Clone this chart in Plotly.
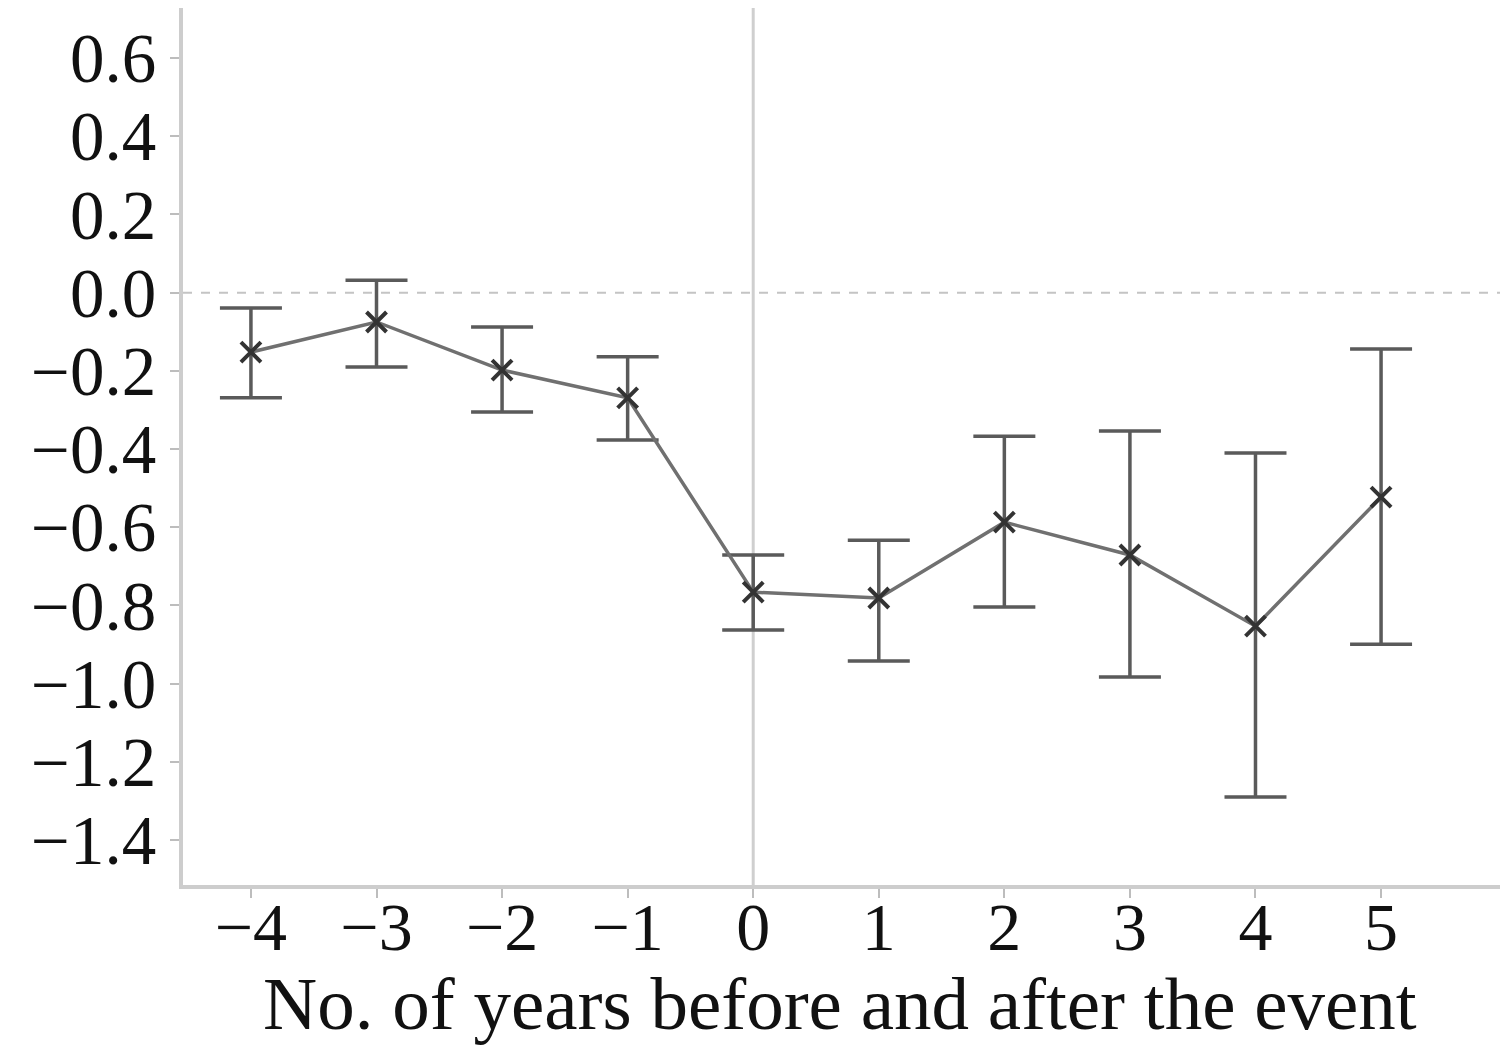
import plotly.graph_objects as go

years = [-4, -3, -2, -1, 0, 1, 2, 3, 4, 5]
coef = [-0.152, -0.075, -0.198, -0.269, -0.766, -0.781, -0.587, -0.671, -0.853, -0.523]
upper = [-0.039, 0.032, -0.088, -0.164, -0.671, -0.633, -0.367, -0.354, -0.410, -0.144]
lower = [-0.269, -0.190, -0.305, -0.377, -0.863, -0.942, -0.804, -0.983, -1.290, -0.899]
y_ticks = [0.6, 0.4, 0.2, 0.0, -0.2, -0.4, -0.6, -0.8, -1.0, -1.2, -1.4]
x_title = "No. of years before and after the event"

err_plus = [u - c for u, c in zip(upper, coef)]
err_minus = [c - l for c, l in zip(coef, lower)]

fig = go.Figure()
fig.add_trace(go.Scatter(
    x=years, y=coef, mode="lines+markers",
    line=dict(color="#707070", width=3.5),
    marker=dict(symbol="x-thin", size=20, line=dict(color="#333333", width=4), color="#333333"),
    error_y=dict(type="data", symmetric=False, array=err_plus, arrayminus=err_minus,
                 color="#5a5a5a", thickness=3.5, width=31),
    showlegend=False,
))

fig.add_shape(type="line", xref="x", yref="paper", x0=0, x1=0, y0=0, y1=1,
              line=dict(color="#cfcfcf", width=3), layer="below")
fig.add_shape(type="line", xref="paper", yref="y", x0=0, x1=1, y0=0, y1=0,
              line=dict(color="#c4c4c4", width=2, dash="dash"), layer="below")

serif = "Liberation Serif, Times New Roman, serif"
tick_font = dict(family=serif, size=69, color="#111")
x_tick_font = dict(family=serif, size=68, color="#111")
title_font = dict(family=serif, size=75, color="#111")

fig.add_annotation(text=x_title, xref="paper", yref="paper", x=0.497, y=-0.135,
                   xanchor="center", yanchor="middle", showarrow=False, font=title_font)

fig.update_layout(
    width=1500, height=1037,
    margin=dict(l=175, r=3, t=0, b=160),
    paper_bgcolor="white", plot_bgcolor="white",
    font=tick_font,
    xaxis=dict(range=[-4.541, 5.987], tickvals=years, ticktext=[str(v).replace("-", "\u2212") for v in years],
               showgrid=False, zeroline=False, showline=True, linecolor="#cdcdcd", linewidth=4,
               ticks="outside", ticklen=9, tickcolor="#bdbdbd", tickwidth=2,
               tickfont=x_tick_font, ticklabelstandoff=-30),
    yaxis=dict(range=[-1.515, 0.728], tickvals=y_ticks,
               ticktext=[f"{v:.1f}".replace("-", "\u2212") if v != 0 else "0.0" for v in y_ticks],
               showgrid=False, zeroline=False, showline=True, linecolor="#cdcdcd", linewidth=4,
               ticks="outside", ticklen=9, tickcolor="#bdbdbd", tickwidth=2,
               tickfont=tick_font),
)

fig.write_html("out.html")
